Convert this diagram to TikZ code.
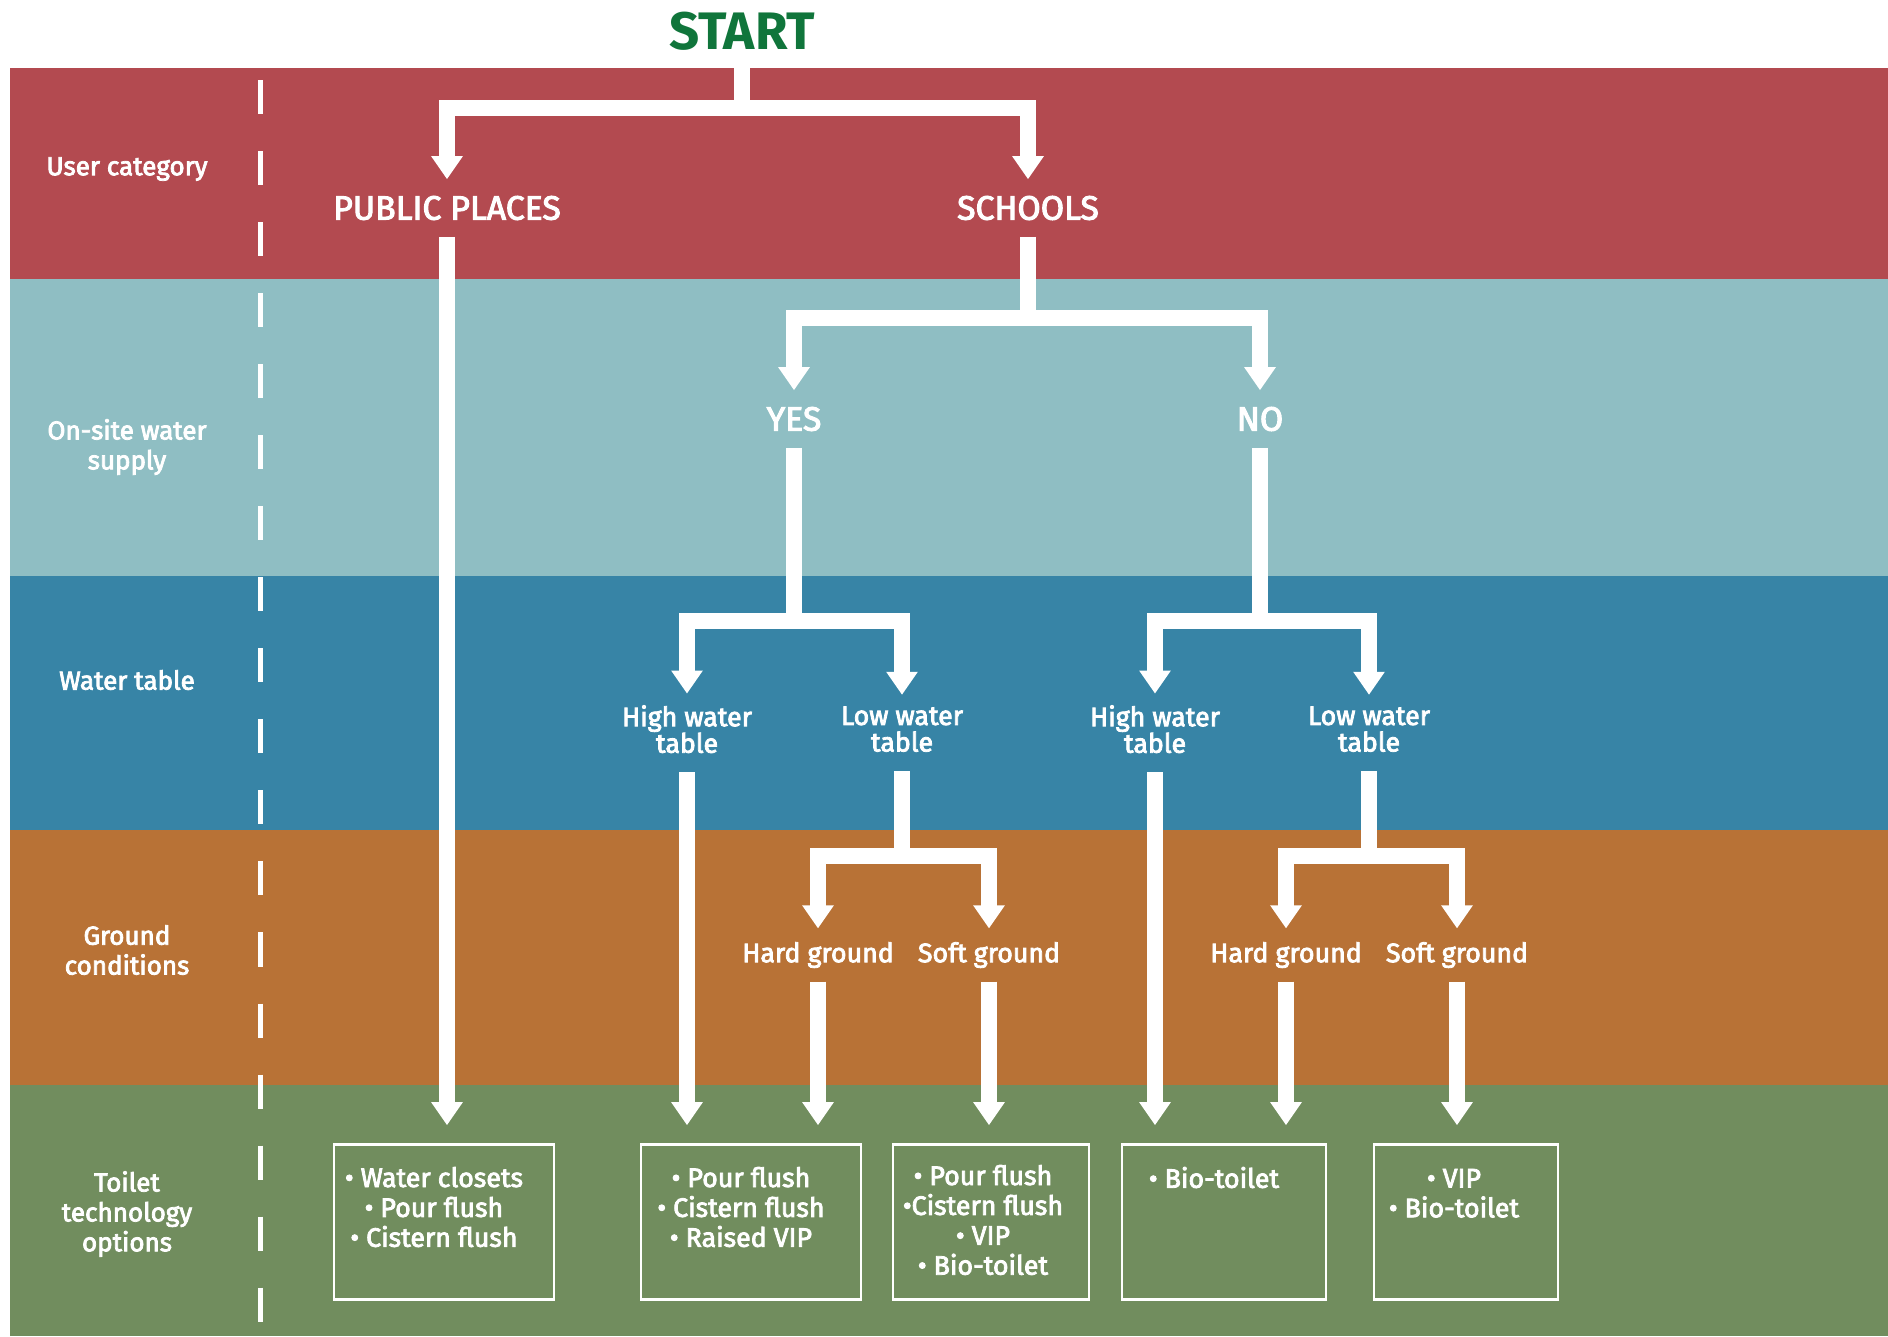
\documentclass[tikz,border=0pt]{standalone}
\usepackage{fontspec}
\setmainfont{Fira Sans}
\newfontfamily\medfont{Fira Sans}[FakeBold=3]
\usepackage{xcolor}
\usepackage{tikz}
\usetikzlibrary{arrows.meta,calc,positioning}

\definecolor{userred}{RGB}{179,74,80}
\definecolor{supplyteal}{RGB}{143,190,195}
\definecolor{tableblue}{RGB}{55,132,166}
\definecolor{groundbrown}{RGB}{184,114,54}
\definecolor{optgreen}{RGB}{113,141,94}
\definecolor{startgreen}{RGB}{16,117,59}

\begin{document}
\begin{tikzpicture}[x=0.01cm, y=-0.01cm,
    flow/.style={draw=white, line width=0.16cm, line join=miter},
    arr/.style={-{Triangle[width=0.30cm,length=0.23cm]}},
    catlbl/.style={text=white, font=\medfont\fontsize{9.6}{10}\selectfont, inner sep=0.16cm},
    wtlbl/.style={text=white, align=center, font=\medfont\fontsize{7.6}{7.55}\selectfont, inner sep=0.11cm},
    gdlbl/.style={text=white, font=\medfont\fontsize{7.6}{8.5}\selectfont, inner sep=0.13cm},
    sidelbl/.style={text=white, align=center, font=\medfont\fontsize{7.4}{8.5}\selectfont},
    optbox/.style={draw=white, line width=0.7pt, inner sep=0pt},
    optlist/.style={text=white, align=center, inner sep=0pt, font=\medfont\fontsize{7.6}{8.5}\selectfont}]
    \useasboundingbox (0,0) rectangle (1888,1336);
    % scale: 1 unit = 1 px of the 1888 x 1336 original
    \foreach \ytop/\ybot/\col in {68/279/userred,279/576/supplyteal,576/830/tableblue,830/1085/groundbrown,1085/1336/optgreen} {
      \fill[\col] (10,\ytop) rectangle (1888,\ybot);
    }
    \draw[white, line width=0.05cm, dash pattern=on 0.34cm off 0.37cm] (260,80) -- (260,1322);
    \foreach \y/\name/\txt in {169/user/{User category},447/supply/{On-site water\\supply},680/table/{Water table},950/ground/{Ground\\conditions},1214/tech/{Toilet\\technology\\options}} {
      \node[sidelbl] (cat-\name) at (127,\y) {\txt};
    }

    \node[text=startgreen, font=\bfseries\fontsize{15}{16}\selectfont, inner sep=0.05cm] (start) at (742,31) {START};
    \node[catlbl] (public) at (447,208) {PUBLIC PLACES};
    \node[catlbl] (schools) at (1028,208) {SCHOOLS};
    \node[catlbl] (yes) at (794,419) {YES};
    \node[catlbl] (no) at (1260,419) {NO};
    \node[wtlbl] (yhigh) at (687,733) {High water\\table\strut};
    \node[wtlbl] (ylow) at (902,733) {Low water\\table\strut};
    \node[wtlbl] (nhigh) at (1155,733) {High water\\table\strut};
    \node[wtlbl] (nlow) at (1369,733) {Low water\\table\strut};
    \node[gdlbl] (yhard) at (818,955) {Hard ground};
    \node[gdlbl] (ysoft) at (989,955) {Soft ground};
    \node[gdlbl] (nhard) at (1286,955) {Hard ground};
    \node[gdlbl] (nsoft) at (1457,955) {Soft ground};

    \node[optbox, minimum width=2.20cm, minimum height=1.55cm] (opt1) at (444,1222) {};
    \node[optbox, minimum width=2.20cm, minimum height=1.55cm] (opt2) at (751,1222) {};
    \node[optbox, minimum width=1.96cm, minimum height=1.55cm] (opt3) at (991,1222) {};
    \node[optbox, minimum width=2.04cm, minimum height=1.55cm] (opt4) at (1224,1222) {};
    \node[optbox, minimum width=1.84cm, minimum height=1.55cm] (opt5) at (1466,1222) {};
    \node[optlist, below=0.23cm of opt1.north, xshift=-0.10cm] (list1) {• Water closets\\• Pour flush\\• Cistern flush};
    \node[optlist, below=0.23cm of opt2.north, xshift=-0.10cm] (list2) {• Pour flush\\• Cistern flush\\• Raised VIP};
    \node[optlist, below=0.21cm of opt3.north, xshift=-0.08cm] (list3) {• Pour flush\\•Cistern flush\\• VIP\\• Bio-toilet};
    \node[optlist, below=0.23cm of opt4.north, xshift=-0.10cm] (list4) {• Bio-toilet};
    \node[optlist, below=0.25cm of opt5.north, xshift=-0.12cm] (list5) {• VIP\\• Bio-toilet};

    \foreach \p/\y/\c in {start/108/public,start/108/schools,schools/318/yes,schools/318/no,
      yes/621/yhigh,yes/621/ylow,no/621/nhigh,no/621/nlow,
      ylow/856/yhard,ylow/856/ysoft,nlow/856/nhard,nlow/856/nsoft} {
      \draw[flow, arr] (\p.south) -- (\p.south |- 0,\y) -| (\c.north);
    }
    \foreach \a/\b in {public/opt1,yhigh/opt2,yhard/opt2,ysoft/opt3,nhigh/opt4,nhard/opt4,nsoft/opt5} {
      \draw[flow, arr, shorten >=0.18cm] (\a.south) -- (\a.south |- \b.north);
    }
  \end{tikzpicture}
\end{document}
